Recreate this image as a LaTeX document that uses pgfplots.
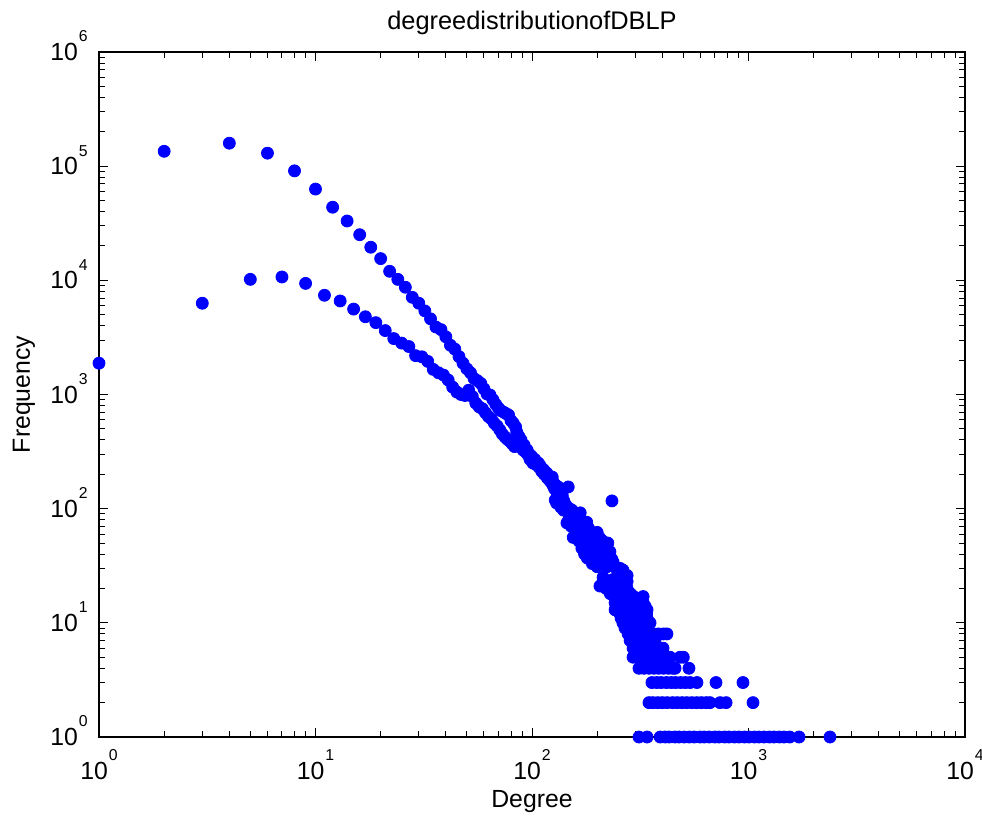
\documentclass[border=0pt]{standalone}
\usepackage{fontspec}
\setmainfont{Liberation Sans}
\usepackage{pgfplots}
\pgfplotsset{compat=1.18}
\definecolor{mBlue}{RGB}{0,0,255}
% 10^k tick label in text font
\newcommand{\tp}[1]{10\kern0.4pt\raisebox{9.35pt}{\fontsize{7.9}{8}\selectfont #1}}

\begin{document}
\begin{tikzpicture}
\begin{axis}[
  name=ax, at={(0,0)}, anchor=south west,
  scale only axis, width=433pt, height=342.5pt,
  xmode=log, ymode=log,
  xmin=1, xmax=10000, ymin=1, ymax=1000000,
  xtick={1,10,100,1000,10000},
  xticklabels={},
  ytick={1,10,100,1000,10000,100000,1000000},
  yticklabels={\tp{0},\tp{1},\tp{2},\tp{3},\tp{4},\tp{5},\tp{6}},
  tick align=inside, xtick pos=both, ytick pos=both,
  major tick length=4.75pt, minor tick length=3pt,
  axis line style={black, line width=0.55pt},
  every tick/.style={black, line width=0.5pt},
  tick label style={font=\fontsize{12.4}{14}\selectfont, inner sep=0pt},
  yticklabel style={anchor=base east, xshift=-5.5pt, yshift=-4.3pt},
  title={degreedistributionofDBLP},
  title style={font=\fontsize{12.7}{15}\selectfont, at={(axis description cs:0.5,1)}, anchor=base, yshift=5.2pt, inner sep=0pt},
  xlabel={Degree},
  xlabel style={font=\fontsize{12.4}{14}\selectfont, at={(axis description cs:0.5,0)}, anchor=base, yshift=-35.4pt, inner sep=0pt},
  ylabel={Frequency},
  ylabel style={font=\fontsize{12.4}{14}\selectfont, at={(axis description cs:0,0.5)}, anchor=base, yshift=34.5pt, inner sep=0pt},
  clip=false,
]
% even degrees (upper branch)
\addplot[only marks, mark=*, mark size=3pt, color=mBlue] coordinates {
(2,135000)(4,159000)(6,130000)(8,91000)(10,63000)(12,43700)(14,33100)(16,25100)
(18,19500)(20,15500)(22,12000)(24,10200)(26,8700)(28,7100)(30,6300)(32,5400)
(34,4600)(36,3900)(38,3700)(40,3200)(42,2700)(44,2500)(46,2150)(48,1880)
(50,1680)(52,1550)(54,1380)(56,1320)(58,1250)(60,1120)(62,1010)(64,990)
(66,900)(68,820)(70,760)(72,720)(74,700)(76,680)(78,660)(80,590)(82,560)(84,520)
};
% odd degrees (lower branch)
\addplot[only marks, mark=*, mark size=3pt, color=mBlue] coordinates {
(1,1880)(3,6300)(5,10200)(7,10700)(9,9400)(11,7400)(13,6600)(15,5600)
(17,4800)(19,4260)(21,3630)(23,3090)(25,2820)(27,2630)(29,2190)(31,2140)
(33,1950)(35,1660)(37,1550)(39,1480)(41,1340)(43,1160)(45,1050)(47,1000)
(49,980)(51,1090)(53,960)(55,840)(57,780)(59,750)(61,690)(63,640)(65,610)
(67,560)(69,530)(71,490)(73,450)(75,425)(77,405)(79,390)(81,370)(83,350)
};
% merged band
\addplot[only marks, mark=*, mark size=3pt, color=mBlue] coordinates {
(85,470)(86,368)(87,430)(88,383)(89,400)(90,350)(91,326)(92,360)(93,330)(94,310)
(95,326)(96,295)(97,300)(98,270)(99,290)(100,283)(101,251)(102,262)(103,270)(104,245)
(105,250)(106,240)(107,251)(108,230)(109,238)(110,227)(111,212)(112,218)(113,220)(114,200)
(115,210)(116,196)(117,205)(118,185)(119,195)(120,180)(121,189)(122,172)(123,178)(124,189)
(125,160)(126,168)(127,150)(128,155)(129,145)(130,158)(131,140)(132,155)(133,132)(134,138)
(135,125)(136,131)(137,120)(138,131)(139,112)(140,118)(141,103)(142,110)(143,100)(144,106)
(145,75)(146,96)(147,155)(148,92)(149,100)(150,90)(151,95)(152,84)(153,97)(155,82)
(155,56)(157,80)(158,56)(159,86)(161,88)(161,84)(163,74)(165,70)(167,92)(167,53)
(168,66)(170,64)(172,70)(174,60)(176,76)(178,58)(179,76)(180,65)(180,61)(182,46)
(184,55)(185,50)(187,48)(190,44)(193,52)(196,47)(200,62)(200,41)(202,38)(206,50)
(209,42)(212,36)(217,50)(220,40)(224,50)(224,39)(229,38)(180,37)(190,35)(200,31)
(210,33)(222,31)(234,33)(237,34)(245,30)(263,29)(206,21)(213,25)(213,23)(220,20)
(230,19)(237,24)(247,21)(255,22)(263,28)(269,25)(275,23)(275,20)(247,17)(255,17)
(250,16)(270,16)(295,17)(326,17)(260,18)(285,18)(234,117)
(128,119)(130,112)(136,103)(140,97)(148,80)(152,70)(160,60)(165,52)(170,45)(175,40)
(185,36)(190,33)(230,18)(240,17)(175,72)(182,68)(190,62)(206,55)(212,52)(229,42)
(234,36)(255,30)(275,26)
};
% tail rows
\addplot[only marks, mark=*, mark size=3pt, color=mBlue] coordinates {
(242,15)(262,15)(284,15)(305,15)(326,15)
(245,14)(265,14)(288,14)(312,14)(333,14)
(242,13)(259,13)(279,13)(300,13)(322,13)(340,13)
(255,12)(272,12)(290,12)(312,12)(338,12)
(258,11)(276,11)(296,11)(317,11)(340,11)
(263,10)(279,10)(296,10)(313,10)(334,10)(351,10)
(269,9)(285,9)(301,9)(318,9)(343,9)
(278,8)(294,8)(311,8)(328,8)(346,8)(366,8)(384,8)(405,8)(420,8)
(284,7)(300,7)(317,7)(335,7)(352,7)(370,7)
(293,6)(310,6)(327,6)(345,6)(366,6)(390,6)(403,6)
(293,5)(309,5)(326,5)(344,5)(362,5)(381,5)(401,5)(421,5)(434,5)(483,5)(500,5)
(312,4)(329,4)(347,4)(366,4)(385,4)(405,4)(427,4)(447,4)(458,4)(531,4)
(358,3)(377,3)(395,3)(418,3)(440,3)(461,3)(486,3)(511,3)(537,3)(578,3)(708,3)(943,3)
(347,2)(362,2)(381,2)(400,2)(421,2)(446,2)(468,2)(493,2)(519,2)(548,2)(577,2)(606,2)(638,2)(664,2)(739,2)(788,2)(1049,2)
(312,1)(340,1)(391,1)(412,1)(430,1)(457,1)(478,1)(505,1)(533,1)(561,1)(597,1)(624,1)(658,1)(699,1)
(731,1)(776,1)(812,1)(862,1)(905,1)(958,1)(1004,1)(1066,1)(1118,1)(1180,1)(1249,1)(1310,1)(1389,1)
(1458,1)(1550,1)(1712,1)(2379,1)
};
% x tick labels, set by hand so the raised exponent sits as in the original
\node[anchor=base, inner sep=0pt, font=\fontsize{12.4}{14}\selectfont, yshift=-21pt] at (axis cs:1,1) {\tp{0}};
\node[anchor=base, inner sep=0pt, font=\fontsize{12.4}{14}\selectfont, yshift=-21pt] at (axis cs:10,1) {\tp{1}};
\node[anchor=base, inner sep=0pt, font=\fontsize{12.4}{14}\selectfont, yshift=-21pt] at (axis cs:100,1) {\tp{2}};
\node[anchor=base, inner sep=0pt, font=\fontsize{12.4}{14}\selectfont, yshift=-21pt] at (axis cs:1000,1) {\tp{3}};
\node[anchor=base, inner sep=0pt, font=\fontsize{12.4}{14}\selectfont, yshift=-21pt] at (axis cs:10000,1) {\tp{4}};
\end{axis}
\pgfresetboundingbox
\path[use as bounding box] ([shift={(-49.5pt,-39.5pt)}]ax.south west) rectangle ([shift={(8.5pt,26pt)}]ax.north east);
\end{tikzpicture}
\end{document}
